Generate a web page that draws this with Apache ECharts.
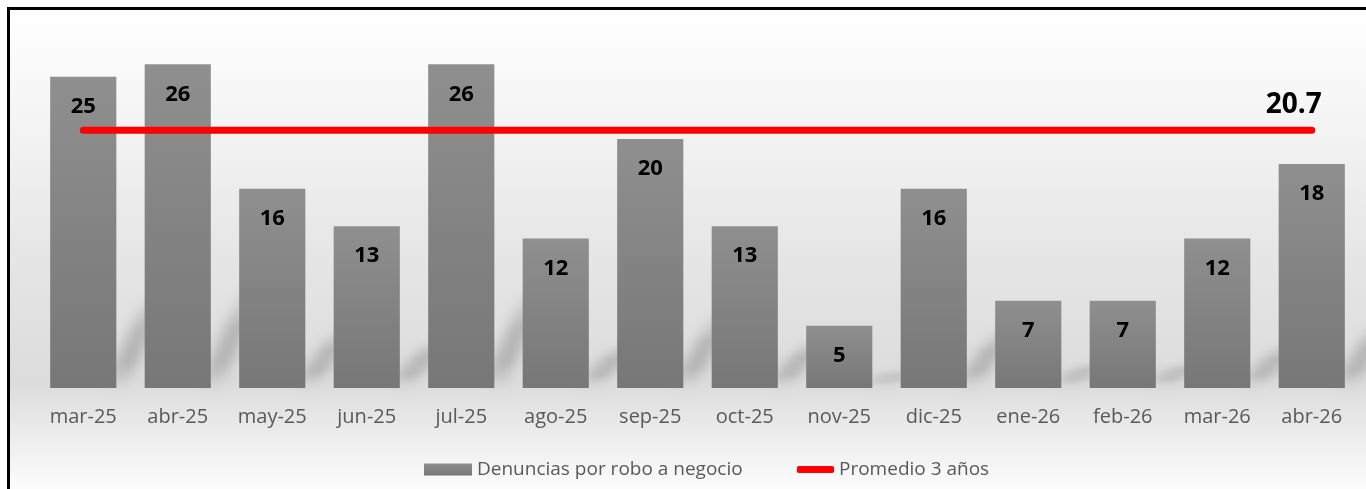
<!DOCTYPE html>
<html>
<head>
<meta charset="utf-8">
<script src="https://cdn.jsdelivr.net/npm/echarts@6/dist/echarts.min.js"></script>
<style>
html,body{margin:0;padding:0;background:#fff;}
#chart{width:1366px;height:489px;}
</style>
</head>
<body>
<div id="chart"></div>
<script>
const categories = ['mar-25','abr-25','may-25','jun-25','jul-25','ago-25','sep-25','oct-25','nov-25','dic-25','ene-26','feb-26','mar-26','abr-26'];
const denuncias = [25, 26, 16, 13, 26, 12, 20, 13, 5, 16, 7, 7, 12, 18];
const promedio = [20.7, 20.7, 20.7, 20.7, 20.7, 20.7, 20.7, 20.7, 20.7, 20.7, 20.7, 20.7, 20.7, 20.7];
const serieBar = 'Denuncias por robo a negocio';
const serieLine = 'Promedio 3 años';

const chart = echarts.init(document.getElementById('chart'));
const FONT = '"Open Sans", "Noto Sans", sans-serif';
const BAR_RATIO = 0.7;

function renderShadow(params, api) {
  const base = api.coord([api.value(0), 0]);
  const top = api.coord([api.value(0), api.value(1)]);
  const bw = api.size([1, 0])[0] * BAR_RATIO;
  const xr = base[0] + bw / 2;
  const h = base[1] - top[1];
  const dx = 42, dy = h * 0.3;
  const t = 11;
  const OFF = 3000;
  const y0 = base[1] - 2;
  return {
    type: 'polygon',
    shape: { points: [
      [xr - t - OFF, y0], [xr + t - OFF, y0],
      [xr + dx + t - OFF, y0 - dy], [xr + dx - t - OFF, y0 - dy]
    ]},
    style: {
      fill: new echarts.graphic.LinearGradient(0, 0, 0, 1, [
        { offset: 0, color: 'rgba(0,0,0,0.1)' },
        { offset: 0.4, color: 'rgba(0,0,0,1)' },
        { offset: 0.75, color: 'rgba(0,0,0,1)' },
        { offset: 1, color: 'rgba(0,0,0,0.3)' }
      ]),
      shadowColor: 'rgba(0,0,0,0.2)',
      shadowBlur: 14,
      shadowOffsetX: OFF,
      shadowOffsetY: 0
    }
  };
}

chart.setOption({
  animation: false,
  graphic: [
    {
      type: 'rect', z: -10,
      shape: { x: 10, y: 10, width: 1356, height: 479 },
      style: {
        fill: new echarts.graphic.LinearGradient(0, 0, 0, 1, [
          { offset: 0, color: '#ffffff' },
          { offset: 0.25, color: '#f3f3f3' },
          { offset: 0.5, color: '#e6e6e6' },
          { offset: 0.78, color: '#dcdcdc' },
          { offset: 0.88, color: '#ebebeb' },
          { offset: 1, color: '#fcfcfc' }
        ])
      }
    },
    {
      type: 'polyline', z: 100,
      shape: { points: [[8.5, 489], [8.5, 8.5], [1366, 8.5]] },
      style: { stroke: '#000', lineWidth: 3, fill: null }
    }
  ],
  grid: { left: 36, right: 7, top: 14.5, bottom: 101 },
  xAxis: {
    type: 'category',
    data: categories,
    axisLine: { show: false },
    axisTick: { show: false },
    axisLabel: { color: '#595959', fontFamily: FONT, fontSize: 20, margin: 19 }
  },
  yAxis: {
    type: 'value', min: 0, max: 30, show: false,
    splitLine: { show: false }
  },
  legend: [
    {
      data: [serieBar],
      left: 419, top: 455,
      icon: 'rect', itemWidth: 48, itemHeight: 12,
      textStyle: { color: '#595959', fontFamily: FONT, fontSize: 19 }
    },
    {
      data: [{ name: serieLine, icon: 'roundRect', itemStyle: { color: '#ff0000', opacity: 1 } }],
      left: 792, top: 455,
      itemWidth: 37, itemHeight: 7,
      textStyle: { color: '#595959', fontFamily: FONT, fontSize: 19 }
    }
  ],
  series: [
    {
      type: 'custom',
      name: 'sombra',
      data: denuncias.map((v, i) => [i, v]),
      renderItem: renderShadow,
      z: 1,
      silent: true
    },
    {
      name: serieBar,
      type: 'bar',
      data: denuncias,
      barCategoryGap: '30%',
      z: 3,
      itemStyle: {
        color: new echarts.graphic.LinearGradient(0, 0, 0, 1, [
          { offset: 0, color: '#8f8f8f' },
          { offset: 1, color: '#777777' }
        ])
      },
      label: {
        show: true, position: 'insideTop', distance: 19,
        color: '#000', fontFamily: FONT, fontWeight: 'bold', fontSize: 22
      }
    },
    {
      name: serieLine,
      type: 'line',
      data: promedio,
      z: 4,
      symbol: 'circle', symbolSize: 1, showSymbol: true,
      itemStyle: { color: 'rgba(255,0,0,0)' },
      lineStyle: { color: '#ff0000', width: 7, cap: 'round' },
      label: {
        show: true, position: 'top', distance: 11, offset: [-18, 0],
        color: '#000', fontFamily: FONT, fontWeight: 'bold', fontSize: 28,
        formatter: p => (p.dataIndex === categories.length - 1 ? String(p.value) : '')
      }
    }
  ]
});
</script>
</body>
</html>
